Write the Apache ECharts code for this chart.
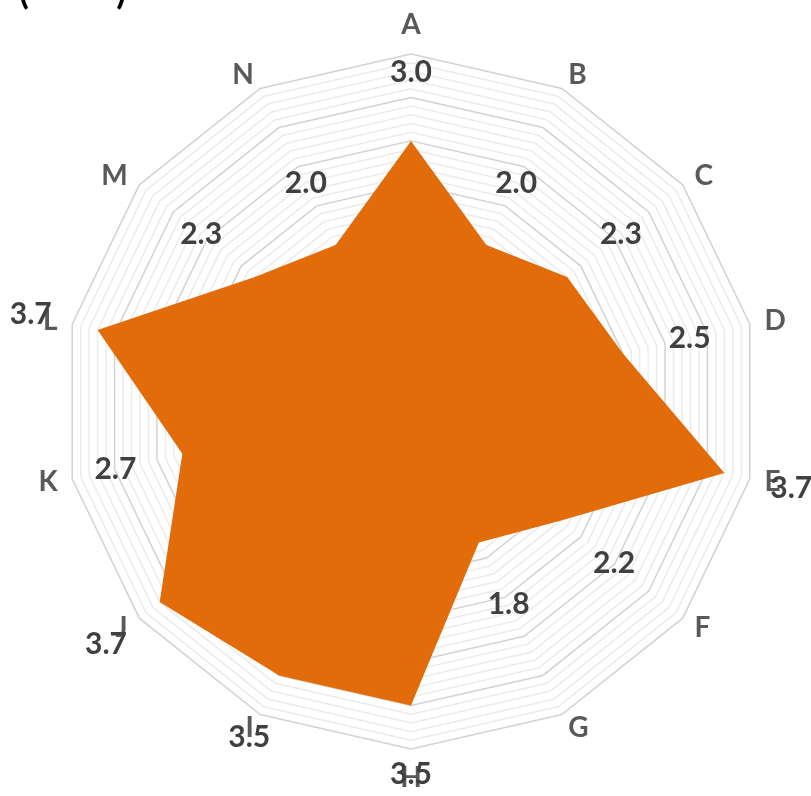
<!DOCTYPE html>
<html>
<head>
<meta charset="utf-8">
<style>
  html, body { margin: 0; padding: 0; background: #fff; }
  #chart { width: 811px; height: 796px; }
</style>
<script src="https://cdn.jsdelivr.net/npm/echarts@6/dist/echarts.min.js"></script>
</head>
<body>
<div id="chart"></div>
<script>
// clockwise from the top
const names = ['A', 'B', 'C', 'D', 'E', 'F', 'G', 'H', 'I', 'J', 'K', 'L', 'M', 'N']
const values = [3.0, 2.0, 2.3, 2.5, 3.7, 2.2, 1.8, 3.5, 3.5, 3.7, 2.7, 3.7, 2.3, 2.0]
const maxValue = 4
// labels sit this far (in value units) beyond each point
const labelPush = 0.79

// echarts lays indicators out counter-clockwise, so flip everything after the first
const flip = arr => [arr[0]].concat(arr.slice(1).reverse())

const chart = echarts.init(document.getElementById('chart'))

const ringColors = ['#d2d2d2', '#ebebeb', '#ebebeb', '#ebebeb', '#ebebeb']

chart.setOption({
    animation: false,
    title: {
        text: '(          )',
        left: 14,
        top: -31,
        textStyle: { fontFamily: 'Lato', fontWeight: 'bold', fontSize: 36, color: '#000' }
    },
    radar: {
        center: [411, 401.5],
        radius: 347.5,
        splitNumber: 40,
        indicator: flip(names).map(n => ({ name: n, min: 0, max: maxValue })),
        axisName: {
            color: '#595959',
            fontFamily: 'Lato',
            fontWeight: 'bold',
            fontSize: 28
        },
        nameGap: 15,
        axisLine: { show: false },
        axisTick: { show: false },
        axisLabel: { show: false },
        splitArea: { show: false },
        splitLine: { lineStyle: { color: ringColors, width: 1.5 } }
    },
    series: [
        {
            type: 'radar',
            symbol: 'none',
            lineStyle: { width: 0 },
            areaStyle: { color: '#e36c0a', opacity: 1 },
            itemStyle: { color: '#e36c0a' },
            data: [{ value: flip(values) }]
        },
        {
            // invisible carrier for the value labels
            type: 'radar',
            symbol: 'circle',
            symbolSize: 1,
            itemStyle: { color: 'transparent' },
            lineStyle: { width: 0, opacity: 0 },
            label: {
                show: true,
                position: 'inside',
                fontFamily: 'Lato',
                fontWeight: 'bold',
                fontSize: 30,
                color: '#404040',
                formatter: p => (p.value - labelPush).toFixed(1)
            },
            data: [{ value: flip(values).map(v => v + labelPush) }]
        }
    ]
})
</script>
</body>
</html>
